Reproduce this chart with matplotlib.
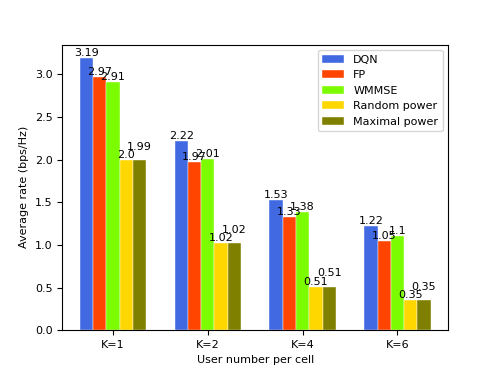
import matplotlib
matplotlib.use('Agg')
import matplotlib.pyplot as plt
import numpy as np

groups = ['K=1', 'K=2', 'K=4', 'K=6']
methods = ['DQN', 'FP', 'WMMSE', 'Random power', 'Maximal power']
dqn = [3.19, 2.22, 1.53, 1.22]
fp = [2.97, 1.97, 1.33, 1.05]
wmmse = [2.91, 2.01, 1.38, 1.1]
rand_power = [2.0, 1.02, 0.51, 0.35]
max_power = [1.99, 1.02, 0.51, 0.35]
colors = ['royalblue', 'orangered', 'lawngreen', 'gold', 'olive']

series = [dqn, fp, wmmse, rand_power, max_power]
x = np.arange(len(groups))
w = 0.14

fig = plt.figure(figsize=(4.98, 3.71), dpi=100)
for i, vals in enumerate(series):
    pos = x + (i - 2) * w
    plt.bar(pos, vals, w, color=colors[i], label=methods[i], edgecolor='white', linewidth=0.3)
    for p, v in zip(pos, vals):
        # maximal power labels sit a bit higher
        off = 0.1 if i == 4 else 0.0
        plt.text(p, v + off, str(v), ha='center', va='bottom', fontsize=8)

plt.xticks(x, groups, fontsize=8)
plt.yticks(fontsize=8)
plt.xlabel('User number per cell', fontsize=8)
plt.ylabel('Average rate (bps/Hz)', fontsize=8)
plt.legend(fontsize=8)
plt.savefig('out.png')
